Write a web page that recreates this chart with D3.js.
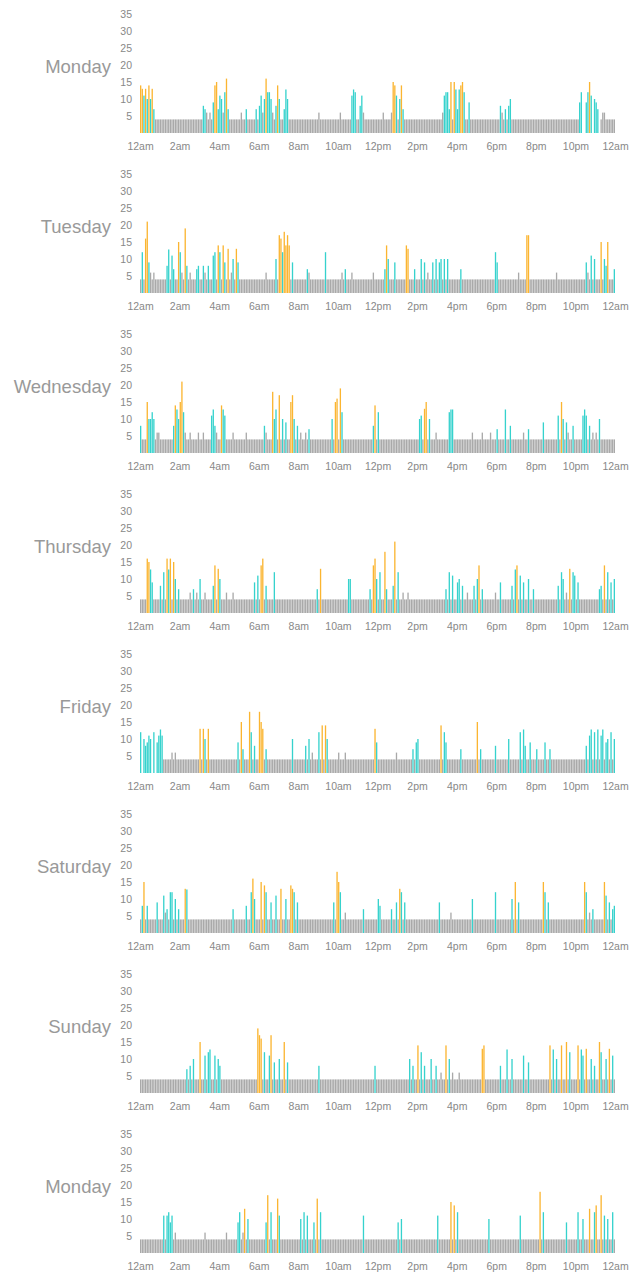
<!DOCTYPE html>
<html><head><meta charset="utf-8">
<script src="https://cdn.jsdelivr.net/npm/d3@7"></script>
<style>body{margin:0;background:#fff}svg{display:block}text{font-family:"Liberation Sans",Arial,Helvetica,sans-serif}</style>
</head><body><svg id="c" width="634" height="1288"></svg>
<script>
const days = ["Monday","Tuesday","Wednesday","Thursday","Friday","Saturday","Sunday","Monday"];
const yTicks = [5,10,15,20,25,30,35];
const xTickHours = [0,2,4,6,8,10,12,14,16,18,20,22,24];
const xTickLabels = ["12am","2am","4am","6am","8am","10am","12pm","2pm","4pm","6pm","8pm","10pm","12am"];

// 5-minute buckets, 12 per row = one hour
const mon1 = [
14,13,11,13,10,14,10,13,7,4,4,4,
4,4,4,4,4,4,4,4,4,4,4,4,
4,4,4,4,4,4,4,4,4,4,4,4,
4,4,8,7,6,4,6,4,9,14,15,7,
11,10,6,12,16,7,4,4,4,4,4,4,
4,6,4,4,7,4,4,4,4,4,7,4,
8,11,6,10,16,12,12,10,6,4,8,14,
10,4,4,7,12.8,10,4,4,4,4,4,4,
4,4,4,4,4,4,4,4,4,4,4,4,
6,4,4,4,4,4,4,4,4,4,4,4,
4,6,4,4,4,4,4,4,11,12.8,12,4,
4,8,11,6,4,4,4,4,4,4,4,4,
4,4,4,6,4,4,4,4,6,15,14,11,
4,10,14,7,4,4,4,4,4,4,4,4,
4,4,4,4,4,4,4,4,4,4,4,4,
4,4,4,6,11,12,12,7,15,4,15,12.8,
7,12.8,14,15,12,4,4,9,4,4,4,4,
4,4,4,4,4,4,4,4,4,4,4,4,
4,4,8,6,4,7,4,8,10,4,4,4,
4,4,4,4,4,4,4,4,4,4,4,4,
4,4,4,4,4,4,4,4,4,4,4,4,
4,4,4,4,4,4,4,4,4,4,4,4,
4,4,9,12,0,0,9,12,15,11,0,10,
9,7,0,4,6,6,4,4,4,4,4,4];

const tue = [
4,12,4,16,21,9,6,4,6,4,4,4,
4,4,4,4,8,12.8,4,11,7,4,4,15,
12,6,4,19,8,4,6,4,4,4,7,8,
4,4,8,6,4,8,4,4,11,12,4,14,
12,4,14,9,4,13,4,6,10,4,13,9,
4,4,4,4,4,4,4,4,4,4,4,4,
4,4,4,4,6,4,4,4,4,4,10,4,
17,16,12,18,14,17,14,4,9,4,4,4,
4,4,4,4,4,7,6,4,4,4,4,4,
4,4,4,4,12,4,4,4,4,4,4,4,
4,4,6,4,7,4,4,4,6,4,4,4,
4,4,4,4,4,4,4,4,4,6,4,4,
4,4,4,4,7,14,10,4,4,4,9,4,
4,4,4,4,4,14,13,4,4,4,7,4,
4,4,10,4,9,4,6,4,4,9,4,10,
4,9,10,4,10,4,10,4,4,4,4,4,
4,4,7,4,4,4,4,4,4,4,4,4,
4,4,4,4,4,4,4,4,4,4,4,12,
9,4,4,4,4,4,4,4,4,4,4,4,
4,6,4,4,4,4,17,17,4,4,4,4,
4,4,4,4,4,4,4,4,4,4,4,4,
6,4,4,4,4,4,4,4,4,4,4,4,
4,4,4,4,4,4,9,6,4,11,4,10,
4,4,4,15,4,10,8,15,4,4,4,7];

const wed = [
8,4,4,4,15,10,10,12,10,4,6,6,
4,4,4,4,4,4,4,4,8,14,12.8,10,
15,21,12,6,4,4,6,4,4,4,4,6,
4,4,6,4,4,4,4,11,12.8,8,6,4,
4,14,12.8,11,4,4,4,4,6,4,4,4,
4,4,4,4,6,4,4,4,4,4,4,4,
4,4,4,8,6,4,4,4,18,10,12.8,4,
17,4,10,4,9,4,4,15,17,10,4,8,
4,6,4,4,6,4,7,4,4,4,4,4,
4,4,4,4,4,4,4,4,10,4,15,16,
4,19,12,4,4,4,4,4,4,4,4,4,
4,4,4,4,4,4,4,4,4,8,14,4,
12,4,4,4,4,4,4,4,4,4,4,4,
4,4,4,4,4,4,4,4,4,4,4,4,
4,10,11,4,13,15,4,10,4,4,4,6,
4,4,4,4,4,4,4,12,12.8,12.8,4,4,
4,4,4,4,4,4,4,4,4,6,4,4,
4,4,4,6,4,4,4,4,6,4,4,4,
7,4,4,4,4,12.8,4,4,8,4,4,4,
4,4,4,4,6,4,4,7,4,4,4,4,
4,4,4,4,9,4,4,4,4,4,4,4,
4,11,4,15,10,4,9,6,4,4,8,4,
4,4,4,4,11,12.8,11,4,8,4,6,4,
6,4,10,4,4,4,4,4,4,4,4,4];

const thu = [
4,4,4,4,16,15,12.8,9,4,4,4,4,
8,4,12,4,16,12.8,16,4,15,10,4,7,
4,4,4,4,4,4,6,4,7,4,6,4,
10,4,4,6,4,4,4,4,8,14,4,13,
10,4,4,4,6,4,4,4,6,4,4,4,
4,4,4,4,4,4,4,4,4,9,4,11,
4,14,16,4,8,4,4,4,4,12,4,4,
4,4,4,4,4,4,4,4,4,4,4,4,
4,4,4,4,4,4,4,4,4,4,4,7,
4,13,4,4,4,4,4,4,4,4,4,4,
4,4,4,4,4,4,10,10,4,4,4,4,
4,4,4,4,4,4,4,7,4,14,16,10,
4,12,4,4,18,7,4,4,4,8,21,4,
12,4,4,6,4,4,6,4,4,4,4,4,
4,4,4,4,4,4,4,4,4,4,4,4,
4,4,4,4,4,7,4,12,4,11,4,4,
9,10,4,8,4,4,6,4,4,4,8,4,
10,14,4,7,4,4,4,4,4,4,4,6,
4,4,9,4,4,4,4,4,4,8,4,12.8,
14,4,11,4,9,4,4,10,4,4,7,4,
4,4,4,4,4,4,4,4,4,4,4,4,
4,8,4,12,10,4,6,4,13,4,12,11,
4,9,4,4,4,4,4,4,4,4,4,4,
4,4,7,8,4,14,4,12,4,9,4,10];

const fri = [
12,0,10,8,9,11,10,0,12,0,9,11,
12.8,11,4,4,4,4,4,6,4,6,4,4,
4,4,4,4,4,4,4,4,4,4,4,4,
13,4,13,10,4,13,4,4,4,4,4,4,
4,4,4,4,4,4,4,4,4,4,4,9,
4,15,7,4,4,4,18,12,4,8,4,4,
18,15,13,4,7,4,4,4,4,4,4,4,
4,4,4,4,4,4,4,4,10,4,4,4,
4,4,4,4,8,4,10,4,6,4,4,4,
12,4,14,4,14,10,4,4,4,4,4,4,
6,4,4,4,6,4,4,4,4,4,4,4,
4,4,4,4,4,4,4,4,4,4,13,9,
4,4,4,4,4,4,4,4,4,4,4,6,
4,4,4,4,4,4,4,4,4,7,4,9,
10,4,4,4,4,4,4,4,4,4,4,4,
4,4,14,4,12,9,4,4,4,4,4,4,
4,4,7,4,4,4,4,4,4,4,4,4,
15,4,7,4,4,4,4,4,4,4,4,8,
4,4,4,4,4,4,4,10,4,4,4,4,
4,4,12,4,12.8,8,4,4,9,4,4,4,
7,4,4,4,4,9,4,4,7,4,4,4,
4,4,4,4,4,4,4,4,4,4,4,4,
4,4,4,4,4,4,8,4,11,12.8,4,12,
4,12.8,4,11,12.8,4,9,10,4,12,4,10];

const sat = [
4,8,15,4,8,4,4,4,4,4,9,4,
4,4,11,6,7,4,12,12,4,10,4,7,
4,4,4,13,12.8,4,4,4,4,4,4,4,
4,4,4,4,4,4,4,4,4,4,4,4,
4,4,4,4,4,4,4,4,7,4,4,4,
4,4,4,4,8,4,4,12,16,10,4,4,
4,15,4,14,12,4,4,9,4,4,11,4,
4,13,4,4,10,4,4,14,13,12,4,9,
4,4,4,4,4,4,4,4,4,4,4,4,
4,4,4,4,4,4,4,4,4,9,4,18,
15,12,4,4,6,4,4,4,4,4,4,4,
4,4,4,7,4,4,4,4,4,4,4,4,
10,8,4,4,4,4,4,4,7,4,4,9,
4,13,12,4,9,4,4,4,4,4,4,4,
4,4,4,4,4,4,4,4,4,4,4,4,
4,9,4,4,4,4,4,4,6,4,4,4,
4,4,4,4,4,4,4,4,4,10,4,4,
4,4,4,4,4,4,4,4,4,4,4,12,
4,4,4,4,4,4,4,4,4,10,4,15,
4,9,4,4,4,4,4,4,4,4,4,4,
4,4,4,4,15,12,4,9,4,4,4,4,
4,4,4,4,4,4,4,4,4,4,4,4,
4,4,4,4,4,15,12,4,6,4,7,4,
4,4,4,4,4,15,11,4,9,4,7,8];

const sun = [
4,4,4,4,4,4,4,4,4,4,4,4,
4,4,4,4,4,4,4,4,4,4,4,4,
4,4,4,4,7,4,8,4,10,4,4,4,
15,4,4,11,4,12,12.8,4,4,11,4,10,
8,4,4,4,4,4,4,4,4,4,4,4,
4,4,4,4,4,4,4,4,4,4,4,19,
17,16,4,12,4,4,11,17,4,9,4,4,
10,4,4,15,4,9,4,4,4,4,4,4,
4,4,4,4,4,4,4,4,4,4,4,4,
8,4,4,4,4,4,4,4,4,4,4,4,
4,4,4,4,4,4,4,4,4,4,4,4,
4,4,4,4,4,4,4,4,4,4,8,4,
4,4,4,4,4,4,4,4,4,4,4,4,
4,4,4,4,4,4,4,10,4,8,4,4,
14,4,12,4,8,4,4,4,10,4,4,8,
4,4,6,4,4,14,4,10,4,6,4,4,
4,6,4,4,4,4,4,4,4,4,4,4,
4,4,4,13,14,4,4,4,4,4,4,4,
4,4,8,4,4,4,12.8,4,4,10,4,4,
4,4,4,4,11,4,4,9,4,4,4,4,
4,4,4,4,4,4,4,4,14,4,12.8,4,
10,4,4,14,4,4,15,4,12,4,4,4,
4,14,4,12.8,11,4,13,4,4,10,4,8,
4,4,15,12,4,4,10,4,13,4,11,4];

const mon2 = [
4,4,4,4,4,4,4,4,4,4,4,4,
4,4,11,4,11,12,9,11,4,6,4,4,
4,4,4,4,4,4,4,4,4,4,4,4,
4,4,4,6,4,4,4,4,4,4,4,4,
4,4,4,4,6,4,4,4,4,4,4,9,
12,4,6,13,4,10,4,4,4,4,4,4,
4,4,4,4,9,17,4,12,4,4,4,16,
11,4,4,4,4,4,4,4,4,4,4,4,
4,10,4,12,4,11,4,4,4,9,4,16,
4,12,4,4,4,4,4,4,4,4,4,4,
4,4,4,4,4,4,4,4,4,4,4,4,
4,4,4,11,4,4,4,4,4,4,4,4,
4,4,4,4,4,4,4,4,4,4,4,4,
9,4,10,4,4,4,4,4,4,4,4,4,
4,4,4,4,4,4,4,4,4,4,4,4,
11,4,4,4,4,4,4,4,15,4,14,4,
12,4,4,4,4,4,4,4,4,4,4,4,
4,4,4,4,4,4,4,10,4,4,4,4,
4,4,4,4,4,4,4,4,4,4,4,4,
4,4,11,4,4,4,4,4,4,4,4,4,
4,4,18,4,12,4,4,4,4,4,4,4,
4,4,4,4,4,4,9,4,4,4,4,4,
4,12,4,4,10,4,4,4,13,4,4,12,
14,4,4,17,4,11,4,10,4,4,12,4];

const series = [mon1, tue, wed, thu, fri, sat, sun, mon2];
series.forEach((s,k)=>{ if (s.length !== 288) throw new Error("series "+k+" has length "+s.length); });

const panelH = 160;
const svg = d3.select("#c");
const x = d3.scaleBand().domain(d3.range(288)).range([140, 615]).paddingInner(0.2);
const xt = d3.scaleLinear().domain([0, 24]).range([140, 615]);
const y = d3.scaleLinear().domain([0, 35]).range([133, 14]);
const color = d3.scaleThreshold().domain([6.5, 13]).range(["#a9a9a9", "#36d2cd", "#fbb531"]);

series.forEach((data, k) => {
  const g = svg.append("g").attr("transform", `translate(0,${k * panelH})`);

  g.append("text")
    .attr("x", 111).attr("y", 73)
    .attr("text-anchor", "end")
    .attr("font-size", 18.5)
    .attr("fill", "#999")
    .text(days[k]);

  const ya = g.append("g").attr("transform", "translate(132,0)")
    .call(d3.axisLeft(y).tickValues(yTicks).tickSize(0).tickPadding(0));
  ya.select(".domain").remove();
  ya.selectAll("text").attr("font-size", 10.5).attr("fill", "#888")
    .style("font-family", '"Liberation Sans",Arial,sans-serif');

  const xa = g.append("g").attr("transform", "translate(0,143)")
    .call(d3.axisBottom(xt).tickValues(xTickHours).tickFormat((d, i) => xTickLabels[i]).tickSize(0).tickPadding(0));
  xa.select(".domain").remove();
  xa.selectAll("text").attr("font-size", 10.5).attr("fill", "#888")
    .style("font-family", '"Liberation Sans",Arial,sans-serif');

  g.append("g").selectAll("rect")
    .data(data.map((v, i) => ({ v, i })).filter(d => d.v > 0))
    .join("rect")
    .attr("x", d => x(d.i))
    .attr("width", x.bandwidth())
    .attr("y", d => y(d.v))
    .attr("height", d => y(0) - y(d.v))
    .attr("fill", d => color(d.v));
});
</script></body></html>
